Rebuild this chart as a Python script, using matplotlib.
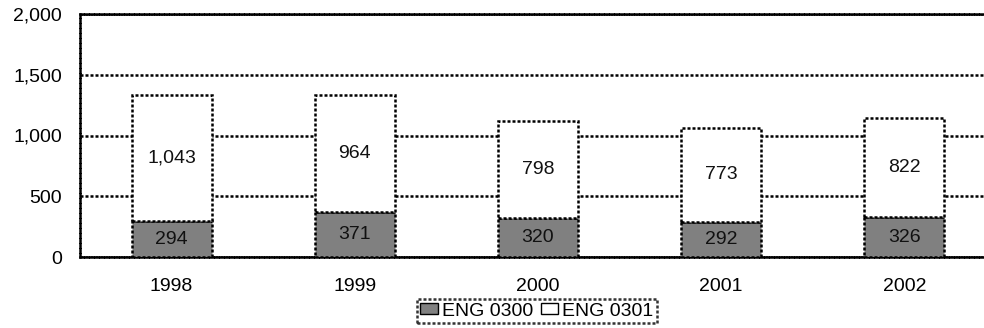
import matplotlib
matplotlib.use("Agg")
import matplotlib.pyplot as plt
import numpy as np

plt.rcParams["font.family"] = ["Liberation Sans", "DejaVu Sans"]

years = ["1998", "1999", "2000", "2001", "2002"]
eng_0300 = [294, 371, 320, 292, 326]
eng_0301 = [1043, 964, 798, 773, 822]
y_ticks = [0, 500, 1000, 1500, 2000]

dot = (0, (1.2, 0.8))
lw = 1.8
fs = 14

fig = plt.figure(figsize=(9.84, 3.28), dpi=100)
ax = fig.add_axes([80 / 984, 71 / 328, 916 / 984, 243 / 328])

x = np.arange(len(years))
w = 0.437
low = ax.bar(x, eng_0300, w, color="#808080", edgecolor="black",
             linewidth=lw, linestyle=dot, zorder=3, label="ENG 0300")
high = ax.bar(x, eng_0301, w, bottom=eng_0300, color="white", edgecolor="black",
              linewidth=lw, linestyle=dot, zorder=3, label="ENG 0301")

for xi, a, b in zip(x, eng_0300, eng_0301):
    ax.text(xi, a / 2, f"{a:,}", ha="center", va="center", fontsize=fs, color="#111111", zorder=4)
    ax.text(xi, a + b / 2, f"{b:,}", ha="center", va="center", fontsize=fs, color="#111111", zorder=4)

ax.set_xlim(-0.5, len(years) - 0.5)
ax.set_ylim(0, 2000)
ax.set_yticks(y_ticks)
ax.set_yticklabels([f"{t:,}" for t in y_ticks], fontsize=fs)
ax.set_xticks(x)
ax.set_xticklabels(years, fontsize=fs)
ax.tick_params(axis="y", length=0, pad=13)
ax.tick_params(axis="x", length=0, pad=15)
ax.yaxis.grid(True, color="black", linestyle=dot, linewidth=lw, zorder=0)
ax.set_axisbelow(True)
for s in ax.spines.values():
    s.set_linestyle(dot)
    s.set_linewidth(lw)

leg = fig.legend(handles=[low, high], loc="center", bbox_to_anchor=(537 / 984, 1 - 311 / 328),
                 ncol=2, fontsize=fs, frameon=True, fancybox=False, borderpad=0.2,
                 handlelength=0.9, handleheight=0.55, handletextpad=0.2, columnspacing=0.4,
                 borderaxespad=0)
leg.get_frame().set_edgecolor("black")
leg.get_frame().set_linestyle(dot)
leg.get_frame().set_linewidth(lw)
for h in leg.legend_handles:
    h.set_linestyle("solid")
    h.set_linewidth(1.0)

fig.savefig("out.png", dpi=100)
